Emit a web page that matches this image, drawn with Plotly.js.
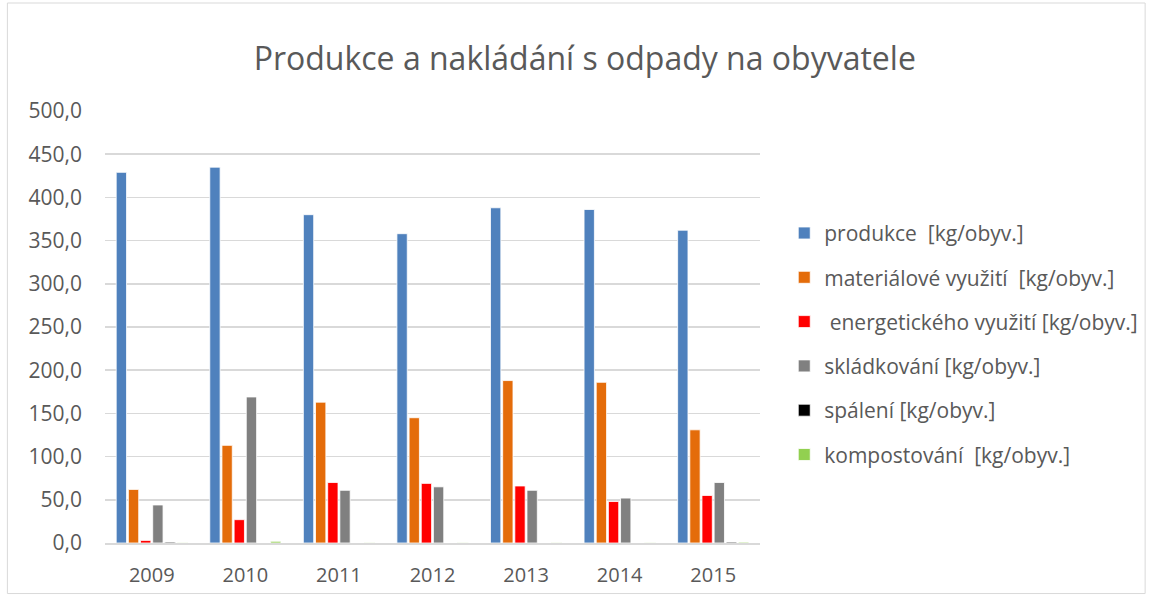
<!DOCTYPE html>
<html><head><meta charset="utf-8">
<script src="https://cdn.plot.ly/plotly-3.0.1.min.js"></script>
<style>html,body{margin:0;padding:0;background:#fff}#chart{width:1158px;height:597px}</style>
</head><body><div id="chart"></div>
<script>
const years = ['2009','2010','2011','2012','2013','2014','2015'];
const seriesNames = [
  'produkce\u00a0\u00a0[kg/obyv.]',
  'materiálové využití\u00a0\u00a0[kg/obyv.]',
  '\u00a0energetického využití [kg/obyv.]',
  'skládkování [kg/obyv.]',
  'spálení [kg/obyv.]',
  'kompostování\u00a0\u00a0[kg/obyv.]'
];
const produkce = [429, 435, 380, 358, 388, 386, 362];
const materialove = [62, 113, 163, 145, 188, 186, 131];
const energeticke = [3, 27, 70, 69, 66, 48, 55];
const skladkovani = [44, 169, 61, 65, 61, 52, 70];
const spaleni = [1, 0, 0, 0, 0, 0, 1];
const kompostovani = [0.5, 2, 0.5, 0.5, 0.5, 0.5, 1];
const colors = ['#4f81bd', '#e46c0a', '#ff0000', '#808080', '#000000', '#92d050'];
const allSeries = [produkce, materialove, energeticke, skladkovani, spaleni, kompostovani];

const FONT = '"Open Sans", "Noto Sans", sans-serif';
const traces = allSeries.map((vals, i) => ({
  type: 'bar', x: years, y: vals, name: seriesNames[i],
  legendgroup: 'g' + i,
  marker: {color: colors[i], line: {color: '#ffffff', width: 0.8}},
  hoverinfo: 'x+y'
}));

const layout = {
  width: 1158, height: 597,
  paper_bgcolor: '#fff', plot_bgcolor: '#fff',
  separators: ', ',
  font: {family: FONT, color: '#595959'},
  title: {text: 'Produkce a nakládání s odpady na obyvatele', x: 0.505, xanchor: 'center', y: 0.92,
          font: {size: 32, color: '#595959', family: FONT}},
  margin: {l: 105, r: 398, t: 111, b: 54},
  barmode: 'group', bargap: 0.22, bargroupgap: 0.15,
  xaxis: {tickfont: {size: 20, color: '#595959'}, showline: true, linecolor: '#d9d9d9', linewidth: 1.5,
          ticks: '', showgrid: false, ticklabelstandoff: 13},
  yaxis: {range: [0, 500], dtick: 50, tickformat: '.1f', tickfont: {size: 21, color: '#595959'},
          gridcolor: '#d9d9d9', gridwidth: 1.5, zeroline: false, ticks: '', showline: false,
          ticklabelstandoff: 22},
  legend: {x: 1.037, xanchor: 'left', y: 0.461, yanchor: 'middle', font: {size: 21, color: '#595959'},
           tracegroupgap: 14, itemwidth: 30},
  shapes: [{type: 'rect', xref: 'paper', yref: 'paper', x0: -0.149, x1: 1.588, y0: -0.117, y1: 1.25,
            line: {color: '#d9d9d9', width: 1}}]
};
Plotly.newPlot('chart', traces, layout, {displayModeBar: false, staticPlot: true});
</script></body></html>
